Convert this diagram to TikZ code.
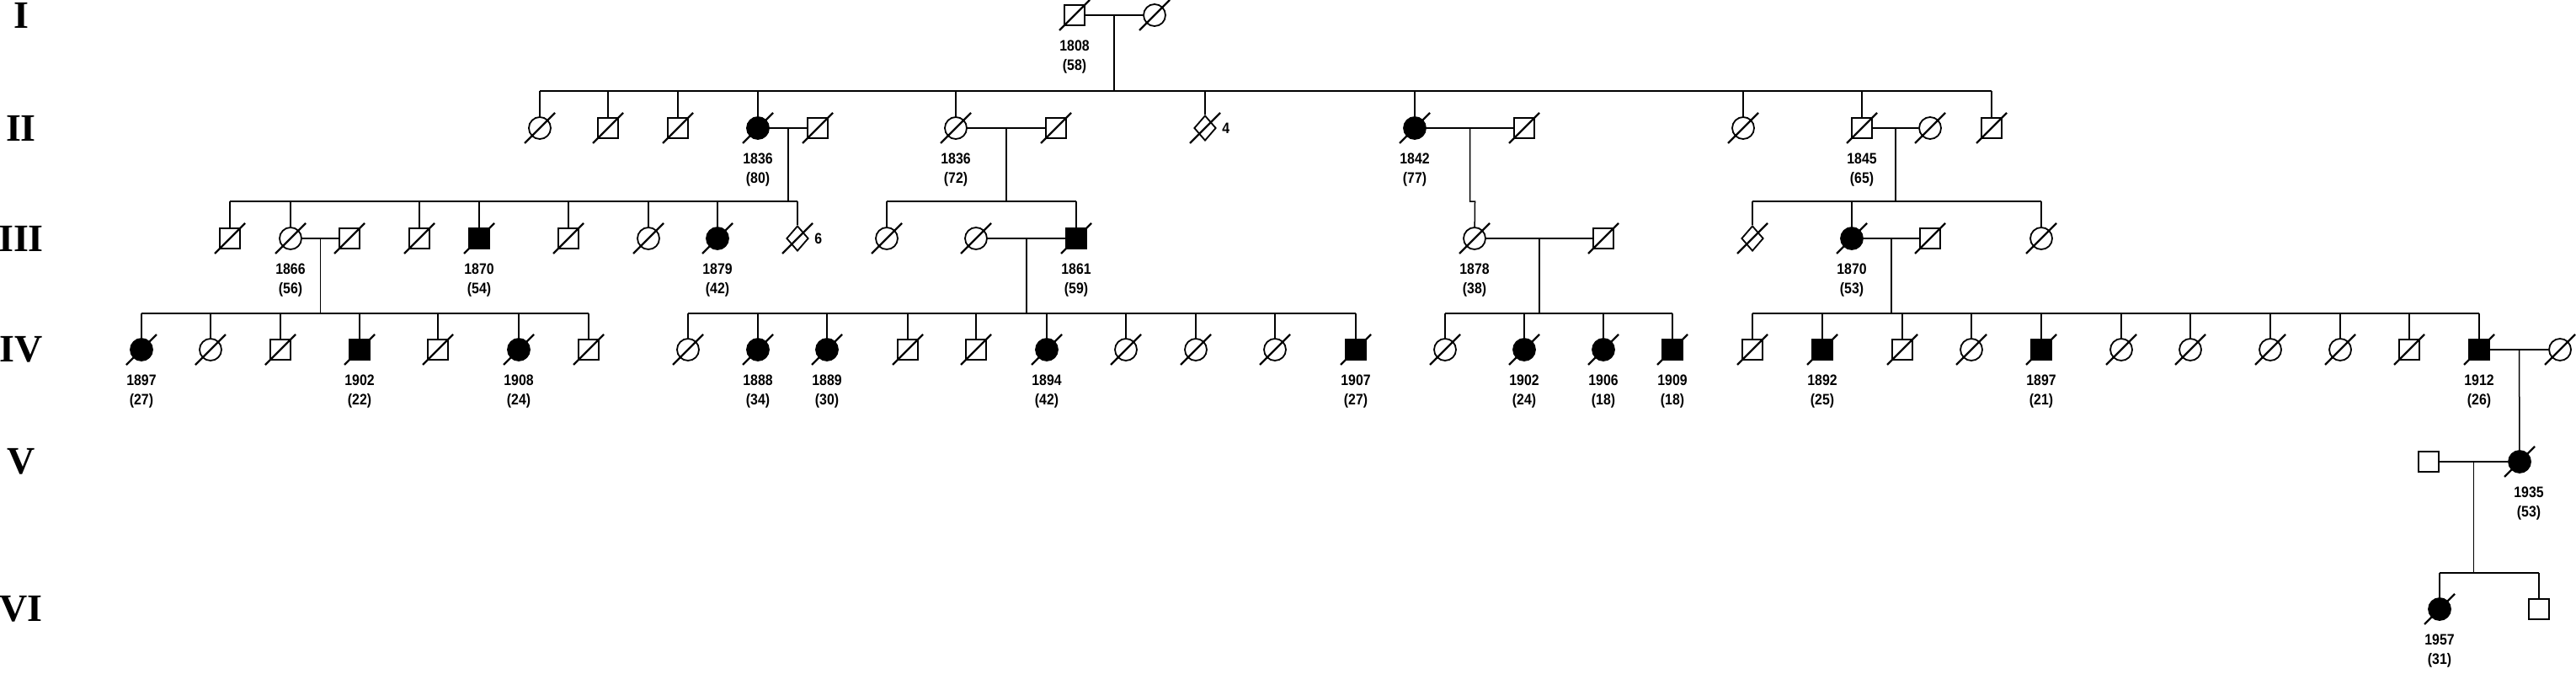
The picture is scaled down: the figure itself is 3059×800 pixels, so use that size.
\documentclass[tikz,border=0pt]{standalone}
\usepackage{fontspec}
\setmainfont{Liberation Sans}
\newfontfamily\infofont[FakeStretch=0.88]{Liberation Sans}
\newfontfamily\genfont{Liberation Serif}
\usetikzlibrary{shapes.geometric,positioning}
\tikzset{ind/.style={draw, line width=1.8pt, inner sep=0pt, fill=white}}
\tikzset{male/.style={ind, rectangle, minimum size=24pt}}
\tikzset{female/.style={ind, circle, minimum size=26pt}}
\tikzset{unknown/.style={ind, diamond, minimum width=26pt, minimum height=30pt}}
\tikzset{affected/.style={fill=black}}
\tikzset{carrier/.style={path picture={\fill (path picture bounding box.center) circle (3.5pt);}}}
\tikzset{deceased/.style={append after command={([shift={(-18,18)}]\tikzlastnode.center) edge[line width=2.2pt] ([shift={(18,-18)}]\tikzlastnode.center)}}}
\tikzset{info/.style={font=\infofont\bfseries\fontsize{18}{23}\selectfont, align=center}}
\tikzset{gen/.style={font=\genfont\bfseries\fontsize{46}{46}\selectfont}}
\tikzset{line/.style={line width=1.5pt}}
\newcommand\yrs[3]{\node[info] (#1y) at ([yshift=-50pt]#1) {#2\\(#3)};}
\begin{document}
\begin{tikzpicture}[x=1pt,y=-1pt]
  \useasboundingbox (0,0) rectangle (3059,800);
  %% Generations
  \node[gen] (gI) at (25,18) {I};
  \node[gen] (gII) at (25,152) {II};
  \node[gen] (gIII) at (25,283) {III};
  \node[gen] (gIV) at (25,415) {IV};
  \node[gen] (gV) at (25,548) {V};
  \node[gen] (gVI) at (25,723) {VI};
  \coordinate (sII) at (0,108);
  \coordinate (sIII) at (0,239);
  \coordinate (sIV) at (0,372);
  \coordinate (sVI) at (0,680);

  %% I
  \node[male,carrier,deceased] (I1) at (1276,18) {};
  \node[female,deceased] (I2) at (1371,18) {};
  \yrs{I1}{1808}{58}

  %% II
  \node[female,deceased] (II1) at (641,152) {};
  \node[male,deceased] (II2) at (722,152) {};
  \node[male,deceased] (II3) at (805,152) {};
  \node[female,affected,deceased] (II4) at (900,152) {};
  \node[male,deceased] (II5) at (971,152) {};
  \node[female,carrier,deceased] (II6) at (1135,152) {};
  \node[male,deceased] (II7) at (1254,152) {};
  \node[unknown,deceased] (II8) at (1431,152) {};
  \node[info, right=3pt of II8] (II8n) {4};
  \node[female,affected,deceased] (II9) at (1680,152) {};
  \node[male,deceased] (II10) at (1810,152) {};
  \node[female,deceased] (II11) at (2070,152) {};
  \node[male,carrier,deceased] (II12) at (2211,152) {};
  \node[female,deceased] (II13) at (2292,152) {};
  \node[male,deceased] (II14) at (2365,152) {};
  \yrs{II4}{1836}{80}
  \yrs{II6}{1836}{72}
  \yrs{II9}{1842}{77}
  \yrs{II12}{1845}{65}

  %% III
  \node[male,deceased] (III1) at (273,283) {};
  \node[female,deceased] (III2) at (345,283) {};
  \node[male,deceased] (III3) at (415,283) {};
  \node[male,deceased] (III4) at (498,283) {};
  \node[male,affected,deceased] (III5) at (569,283) {};
  \node[male,deceased] (III6) at (675,283) {};
  \node[female,deceased] (III7) at (770,283) {};
  \node[female,affected,deceased] (III8) at (852,283) {};
  \node[unknown,deceased] (III9) at (947,283) {};
  \node[info, right=3pt of III9] (III9n) {6};
  \node[female,deceased] (III10) at (1053,283) {};
  \node[female,deceased] (III11) at (1159,283) {};
  \node[male,affected,deceased] (III12) at (1278,283) {};
  \node[female,carrier,deceased] (III13) at (1751,283) {};
  \node[male,deceased] (III14) at (1904,283) {};
  \node[unknown,deceased] (III15) at (2081,283) {};
  \node[female,affected,deceased] (III16) at (2199,283) {};
  \node[male,deceased] (III17) at (2292,283) {};
  \node[female,deceased] (III18) at (2424,283) {};
  \yrs{III2}{1866}{56}
  \yrs{III5}{1870}{54}
  \yrs{III8}{1879}{42}
  \yrs{III12}{1861}{59}
  \yrs{III13}{1878}{38}
  \yrs{III16}{1870}{53}

  %% IV
  \node[female,affected,deceased] (IV1) at (168,415) {};
  \node[female,deceased] (IV2) at (250,415) {};
  \node[male,deceased] (IV3) at (333,415) {};
  \node[male,affected,deceased] (IV4) at (427,415) {};
  \node[male,deceased] (IV5) at (520,415) {};
  \node[female,affected,deceased] (IV6) at (616,415) {};
  \node[male,deceased] (IV7) at (699,415) {};
  \node[female,deceased] (IV8) at (817,415) {};
  \node[female,affected,deceased] (IV9) at (900,415) {};
  \node[female,affected,deceased] (IV10) at (982,415) {};
  \node[male,deceased] (IV11) at (1078,415) {};
  \node[male,deceased] (IV12) at (1159,415) {};
  \node[female,affected,deceased] (IV13) at (1243,415) {};
  \node[female,deceased] (IV14) at (1337,415) {};
  \node[female,deceased] (IV15) at (1420,415) {};
  \node[female,deceased] (IV16) at (1514,415) {};
  \node[male,affected,deceased] (IV17) at (1610,415) {};
  \node[female,deceased] (IV18) at (1716,415) {};
  \node[female,affected,deceased] (IV19) at (1810,415) {};
  \node[female,affected,deceased] (IV20) at (1904,415) {};
  \node[male,affected,deceased] (IV21) at (1986,415) {};
  \node[male,deceased] (IV22) at (2081,415) {};
  \node[male,affected,deceased] (IV23) at (2164,415) {};
  \node[male,deceased] (IV24) at (2259,415) {};
  \node[female,deceased] (IV25) at (2341,415) {};
  \node[male,affected,deceased] (IV26) at (2424,415) {};
  \node[female,deceased] (IV27) at (2519,415) {};
  \node[female,deceased] (IV28) at (2601,415) {};
  \node[female,deceased] (IV29) at (2696,415) {};
  \node[female,deceased] (IV30) at (2779,415) {};
  \node[male,deceased] (IV31) at (2861,415) {};
  \node[male,affected,deceased] (IV32) at (2944,415) {};
  \node[female,deceased] (IV33) at (3040,415) {};
  \yrs{IV1}{1897}{27}
  \yrs{IV4}{1902}{22}
  \yrs{IV6}{1908}{24}
  \yrs{IV9}{1888}{34}
  \yrs{IV10}{1889}{30}
  \yrs{IV13}{1894}{42}
  \yrs{IV17}{1907}{27}
  \yrs{IV19}{1902}{24}
  \yrs{IV20}{1906}{18}
  \yrs{IV21}{1909}{18}
  \yrs{IV23}{1892}{25}
  \yrs{IV26}{1897}{21}
  \yrs{IV32}{1912}{26}

  %% V and VI
  \node[male] (V1) at (2884,548) {};
  \node[female,affected,deceased] (V2) at (2992,548) {};
  \node[info] (V2y) at ([xshift=11pt,yshift=-50pt]V2) {1935\\(53)};
  \node[female,affected,deceased] (VI1) at (2897,723) {};
  \node[male] (VI2) at (3015,723) {};
  \yrs{VI1}{1957}{31}

  %% Couples
  \draw[line] (I1) -- (I2) coordinate[midway] (cI);
  \draw[line] (II4) -- (II5) coordinate[midway] (cII4);
  \draw[line] (II6) -- (II7) coordinate[midway] (cII6);
  \draw[line] (II9) -- (II10) coordinate[midway] (cII9);
  \draw[line] (II12) -- (II13) coordinate[midway] (cII12);
  \draw[line] (III2) -- (III3) coordinate[midway] (cIII2);
  \draw[line] (III11) -- (III12) coordinate[midway] (cIII11);
  \draw[line] (III13) -- (III14) coordinate[midway] (cIII13);
  \draw[line] (III16) -- (III17) coordinate[midway] (cIII16);
  \draw[line] (IV32) -- (IV33) coordinate[midway] (cIV32);
  \draw[line] (V1) -- (V2) coordinate[midway] (cV1);

  %% Sibships
  \draw[line] (cI) -- (cI |- sII);
  \draw[line] (II1 |- sII) -- (II14 |- sII);
  \foreach \n in {II1,II2,II3,II4,II6,II8,II9,II11,II12,II14}
    \draw[line] (\n) -- (\n |- sII);

  \draw[line] (cII4) -- (cII4 |- sIII);
  \draw[line] (III1 |- sIII) -- (III9 |- sIII);
  \foreach \n in {III1,III2,III4,III5,III6,III7,III8,III9}
    \draw[line] (\n) -- (\n |- sIII);
  \draw[line] (cII6) -- (cII6 |- sIII);
  \draw[line] (III10 |- sIII) -- (III12 |- sIII);
  \foreach \n in {III10,III12}
    \draw[line] (\n) -- (\n |- sIII);
  \draw[line] (cII9) -- (cII9 |- sIII) -- ++(6,0) -- (III13);
  \draw[line] (cII12) -- (cII12 |- sIII);
  \draw[line] (III15 |- sIII) -- (III18 |- sIII);
  \foreach \n in {III15,III16,III18}
    \draw[line] (\n) -- (\n |- sIII);

  \draw[line] (cIII2) -- (cIII2 |- sIV);
  \draw[line] (IV1 |- sIV) -- (IV7 |- sIV);
  \foreach \n in {IV1,IV2,IV3,IV4,IV5,IV6,IV7}
    \draw[line] (\n) -- (\n |- sIV);
  \draw[line] (cIII11) -- (cIII11 |- sIV);
  \draw[line] (IV8 |- sIV) -- (IV17 |- sIV);
  \foreach \n in {IV8,IV9,IV10,IV11,IV12,IV13,IV14,IV15,IV16,IV17}
    \draw[line] (\n) -- (\n |- sIV);
  \draw[line] (cIII13) -- (cIII13 |- sIV);
  \draw[line] (IV18 |- sIV) -- (IV21 |- sIV);
  \foreach \n in {IV18,IV19,IV20,IV21}
    \draw[line] (\n) -- (\n |- sIV);
  \draw[line] (cIII16) -- (cIII16 |- sIV);
  \draw[line] (IV22 |- sIV) -- (IV32 |- sIV);
  \foreach \n in {IV22,IV23,IV24,IV25,IV26,IV27,IV28,IV29,IV30,IV31,IV32}
    \draw[line] (\n) -- (\n |- sIV);

  \draw[line] (cIV32) -- (V2);
  \draw[line] (cV1) -- (cV1 |- sVI);
  \draw[line] (VI1 |- sVI) -- (VI2 |- sVI);
  \foreach \n in {VI1,VI2}
    \draw[line] (\n) -- (\n |- sVI);
\end{tikzpicture}
\end{document}
